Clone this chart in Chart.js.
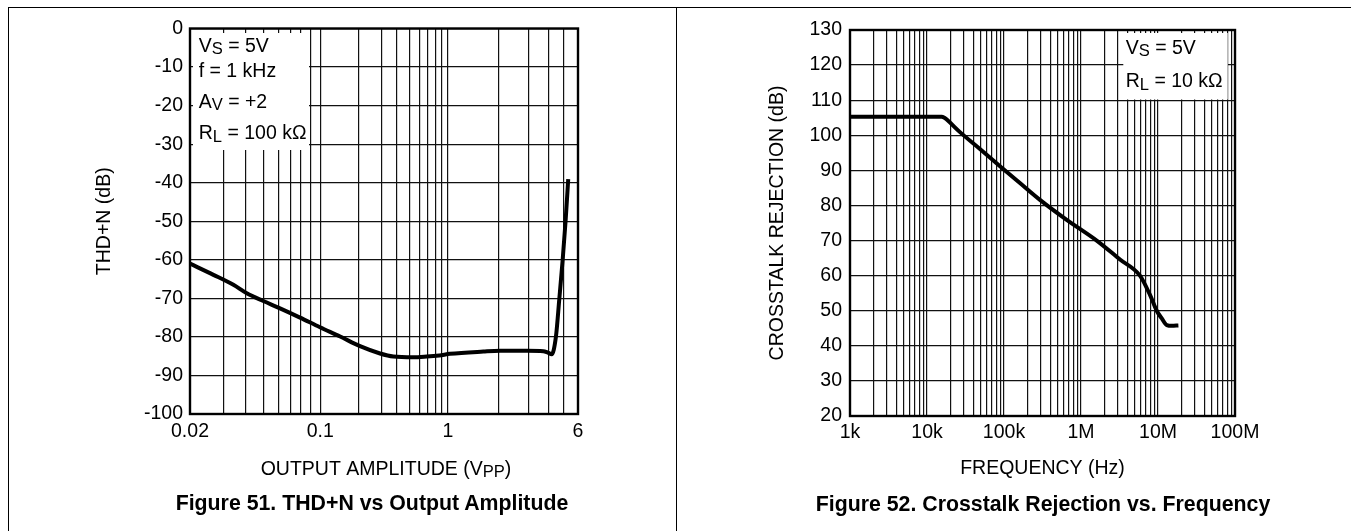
<!DOCTYPE html>
<html>
<head>
<meta charset="utf-8">
<script src="https://cdn.jsdelivr.net/npm/chart.js"></script>
<style>
html,body{margin:0;padding:0;background:#fff;width:1351px;height:531px;overflow:hidden;}
#wrap{position:relative;width:1351px;height:531px;}
canvas{position:absolute;top:0;}
#c1{left:0;}
#c2{left:676px;}
.rule{position:absolute;background:#000;}
.cap{position:absolute;font-family:"Liberation Sans",Arial,sans-serif;font-weight:bold;font-size:21.3px;white-space:nowrap;transform:translate(-50%,-50%);color:#000;}
</style>
</head>
<body>
<div id="wrap">
  <div class="rule" style="left:8px;top:7px;width:1343px;height:1px"></div>
  <div class="rule" style="left:8px;top:7px;width:1px;height:524px"></div>
  <div class="rule" style="left:676px;top:7px;width:1px;height:524px"></div>
  <canvas id="c1" width="676" height="531"></canvas>
  <canvas id="c2" width="675" height="531"></canvas>
  <div class="cap" style="left:372px;top:503px">Figure 51. THD+N vs Output Amplitude</div>
  <div class="cap" style="left:1043px;top:504px">Figure 52. Crosstalk Rejection vs. Frequency</div>
</div>
<script>
// ---------- Figure 51: THD+N vs Output Amplitude ----------
const thdAmplitude = [0.0095, 0.0145, 0.0208, 0.0265, 0.0357, 0.0483, 0.0693, 0.0994, 0.143, 0.205, 0.294, 0.374, 0.536, 0.683, 0.857, 1.04, 1.90, 2.57, 4.2, 5.61, 6.10, 6.53, 7.05, 7.48, 7.96, 8.40, 8.80];
const thdDb        = [-61.0, -63.9, -66.5, -68.7, -70.7, -72.6, -75.0, -77.5, -79.9, -82.4, -84.3, -85.1, -85.3, -85.1, -84.8, -84.4, -83.8, -83.6, -83.6, -83.7, -84.1, -84.5, -79.9, -70.4, -60.0, -49.7, -39.1];
const thdXLabelValues = [0.0095, 0.1, 1, 10.5];
const thdXLabels      = ['0.02', '0.1', '1', '6'];
const thdXMinorGrid   = [0.01734, 0.02598, 0.0357, 0.0468, 0.0589, 0.0701, 0.084, 0.2, 0.3, 0.4, 0.5, 0.6, 0.7, 0.8, 0.9, 2.49, 4.28, 6.14, 8.05];
const thdYMin = -100, thdYMax = 0, thdYStep = 10;
const thdNotes = [
  [['V', 0], ['S', 1], [' = 5V', 0]],
  [['f = 1 kHz', 0]],
  [['A', 0], ['V', 1], [' = +2', 0]],
  [['R', 0], ['L', 1], [' = 100 k\u03A9', 0]]
];
const thdXTitle = [['OUTPUT AMPLITUDE (V', 0], ['PP', 1], [')', 0]];
const thdYTitle = 'THD+N (dB)';

// ---------- Figure 52: Crosstalk Rejection vs Frequency ----------
const crossFreq = [1e3, 1e4, 1.55e4, 1.66e4, 1.82e4, 2.68e4, 4.87e4, 8.87e4, 1.61e5, 2.93e5, 6.52e5, 1.6e6, 3.21e6, 5.83e6, 7.87e6, 9.62e6, 1.12e7, 1.30e7, 1.52e7, 1.84e7];
const crossDb   = [105.3, 105.3, 105.3, 105.1, 104.4, 100.9, 96.1, 91.2, 86.4, 81.6, 75.9, 70.0, 64.6, 60.0, 54.5, 50.0, 47.8, 45.9, 45.7, 45.8];
const crossXLabelValues = [1e3, 1e4, 1e5, 1e6, 1e7, 1e8];
const crossXLabels      = ['1k', '10k', '100k', '1M', '10M', '100M'];
const crossYMin = 20, crossYMax = 130, crossYStep = 10;
const crossNotes = [
  [['V', 0], ['S', 1], [' = 5V', 0]],
  [['R', 0], ['L', 1], [' = 10 k\u03A9', 0]]
];
const crossXTitle = 'FREQUENCY (Hz)';
const crossYTitle = 'CROSSTALK REJECTION (dB)';

// ---------- common styling ----------
const FONT = '"Liberation Sans", Arial, sans-serif';
const FS = 19.5;
const GRID = {color: '#111', lineWidth: 1.2, drawTicks: false};
const BORDER = {color: '#000', width: 2};
Chart.defaults.font.family = FONT;
Chart.defaults.font.size = FS;
Chart.defaults.color = '#000';

function drawRich(ctx, segs, x, y, align) {
  const mainF = FS + 'px ' + FONT, subF = (FS * 0.85) + 'px ' + FONT;
  let total = 0;
  segs.forEach(([t, s]) => { ctx.font = s ? subF : mainF; total += ctx.measureText(t).width; });
  let cx = align === 'center' ? x - total / 2 : x;
  ctx.textAlign = 'left';
  ctx.textBaseline = 'middle';
  segs.forEach(([t, s]) => {
    ctx.font = s ? subF : mainF;
    ctx.fillText(t, cx, y + (s ? 3.3 : 0));
    cx += ctx.measureText(t).width;
  });
}

const panelPlugin = {
  id: 'panel',
  beforeDatasetsDraw(chart) {
    const {ctx, chartArea: a} = chart;
    ctx.save();
    ctx.strokeStyle = '#000';
    ctx.lineWidth = 2.4;
    ctx.strokeRect(a.left, a.top, a.right - a.left, a.bottom - a.top);
    ctx.restore();
  },
  afterDraw(chart, args, o) {
    const {ctx, chartArea: a} = chart;
    ctx.save();
    ctx.fillStyle = '#000';
    if (o.box) {
      const b = o.box;
      ctx.fillStyle = '#fff';
      ctx.fillRect(a.left + b.x, a.top + b.y, b.w, b.h);
      ctx.fillStyle = '#000';
      o.notes.forEach((segs, i) => drawRich(ctx, segs, a.left + b.tx, a.top + b.ty[i], 'left'));
    }
    if (o.xTitle) {
      drawRich(ctx, o.xTitle, (a.left + a.right) / 2 + 2, a.bottom + o.xTitleDy, 'center');
    }
    ctx.restore();
  }
};

// ---------- chart 1 ----------
const thdGrid = thdXLabelValues.concat(thdXMinorGrid).sort((p, q) => p - q);
new Chart(document.getElementById('c1'), {
  type: 'line',
  data: {
    datasets: [{
      data: thdAmplitude.map((v, i) => ({x: v, y: thdDb[i]})),
      borderColor: '#000',
      borderWidth: 4,
      pointRadius: 0,
      fill: false,
      cubicInterpolationMode: 'monotone'
    }]
  },
  options: {
    responsive: false,
    devicePixelRatio: 1,
    animation: false,
    events: [],
    layout: {padding: {left: 90, right: 98, top: 28.5, bottom: 50}},
    plugins: {
      legend: {display: false},
      tooltip: {enabled: false},
      panel: {
        box: {x: 3, y: 4.5, w: 116, h: 117, tx: 8.7, ty: [18, 43.5, 74, 105.5]},
        notes: thdNotes,
        xTitle: thdXTitle,
        xTitleDy: 55.3
      }
    },
    scales: {
      x: {
        type: 'logarithmic',
        min: thdXLabelValues[0],
        max: thdXLabelValues[thdXLabelValues.length - 1],
        afterBuildTicks: s => { s.ticks = thdGrid.map(v => ({value: v})); },
        afterFit: s => { s.height = 67; },
        ticks: {
          autoSkip: false, maxRotation: 0, minRotation: 0, padding: 6,
          callback: v => { const i = thdXLabelValues.indexOf(v); return i >= 0 ? thdXLabels[i] : ''; }
        },
        grid: GRID,
        border: BORDER
      },
      y: {
        type: 'linear',
        min: thdYMin, max: thdYMax,
        afterFit: s => { s.width = 100; },
        ticks: {stepSize: thdYStep, padding: 7, autoSkip: false},
        grid: GRID,
        border: BORDER,
        title: {display: true, text: thdYTitle, font: {size: FS}, padding: {top: 2.6, bottom: 0}}
      }
    }
  },
  plugins: [panelPlugin]
});

// ---------- chart 2 ----------
const crossGrid = [];
crossXLabelValues.forEach((d, i) => {
  crossGrid.push(d);
  if (i < crossXLabelValues.length - 1) {
    [2, 3, 4, 5, 6, 7, 8, 9].forEach(m => crossGrid.push(m * d));
  }
});
new Chart(document.getElementById('c2'), {
  type: 'line',
  data: {
    datasets: [{
      data: crossFreq.map((v, i) => ({x: v, y: crossDb[i]})),
      borderColor: '#000',
      borderWidth: 4,
      pointRadius: 0,
      fill: false,
      cubicInterpolationMode: 'monotone'
    }]
  },
  options: {
    responsive: false,
    devicePixelRatio: 1,
    animation: false,
    events: [],
    layout: {padding: {left: 74, right: 116, top: 30, bottom: 51}},
    plugins: {
      legend: {display: false},
      tooltip: {enabled: false},
      panel: {
        box: {x: 273.3, y: 3, w: 104.4, h: 66.5, tx: 275.7, ty: [18.3, 51.7]},
        notes: crossNotes
      }
    },
    scales: {
      x: {
        type: 'logarithmic',
        min: crossXLabelValues[0],
        max: crossXLabelValues[crossXLabelValues.length - 1],
        afterBuildTicks: s => { s.ticks = crossGrid.map(v => ({value: v})); },
        afterFit: s => { s.height = 64; },
        ticks: {
          autoSkip: false, maxRotation: 0, minRotation: 0, padding: 5,
          callback: v => { const i = crossXLabelValues.indexOf(v); return i >= 0 ? crossXLabels[i] : ''; }
        },
        grid: GRID,
        border: BORDER,
        title: {display: true, text: crossXTitle, font: {size: FS}, padding: {top: 0, bottom: 0}}
      },
      y: {
        type: 'linear',
        min: crossYMin, max: crossYMax,
        afterFit: s => { s.width = 100; },
        ticks: {stepSize: crossYStep, padding: 8, autoSkip: false},
        grid: GRID,
        border: BORDER,
        title: {display: true, text: crossYTitle, font: {size: FS}, padding: {top: 16, bottom: 0}}
      }
    }
  },
  plugins: [panelPlugin]
});
</script>
</body>
</html>
